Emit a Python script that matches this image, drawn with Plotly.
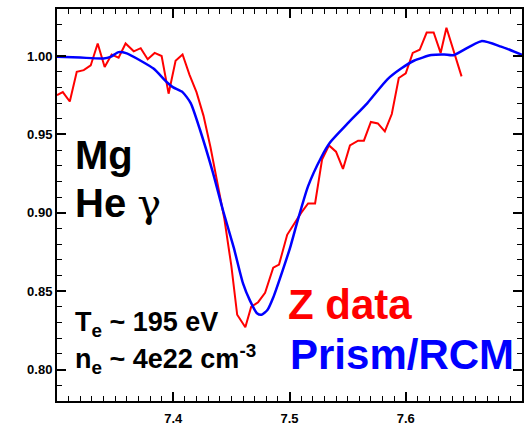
import plotly.graph_objects as go

# Measured Z-machine transmission around the Mg He-gamma line
z_wavelength = [
    7.300, 7.305, 7.311, 7.317, 7.323, 7.329, 7.335, 7.341, 7.347, 7.353,
    7.359, 7.366, 7.372, 7.378, 7.384, 7.390, 7.396, 7.402, 7.408, 7.414,
    7.420, 7.426, 7.432, 7.438, 7.444, 7.450, 7.455, 7.462, 7.467, 7.473,
    7.479, 7.486, 7.491, 7.498, 7.504, 7.510, 7.516, 7.522, 7.528, 7.534,
    7.540, 7.546, 7.552, 7.559, 7.564, 7.570, 7.576, 7.582, 7.588, 7.594,
    7.600, 7.606, 7.612, 7.618, 7.624, 7.630, 7.635, 7.642, 7.648,
]
z_transmission = [
    0.975, 0.977, 0.971, 0.990, 0.991, 0.994, 1.008, 0.993, 1.001, 0.999,
    1.008, 1.003, 1.005, 0.998, 1.002, 1.000, 0.976, 0.997, 1.001, 0.988,
    0.977, 0.962, 0.942, 0.919, 0.896, 0.866, 0.835, 0.827, 0.840, 0.843,
    0.849, 0.865, 0.867, 0.886, 0.893, 0.900, 0.906, 0.906, 0.934, 0.943,
    0.939, 0.928, 0.943, 0.946, 0.946, 0.958, 0.957, 0.952, 0.963, 0.986,
    0.989, 1.002, 1.004, 1.015, 1.015, 1.002, 1.018, 1.001, 0.987,
]

# Prism/RCM model spectrum
model_wavelength = [
    7.300, 7.320, 7.340, 7.346, 7.353, 7.360, 7.372, 7.383, 7.395, 7.400,
    7.408, 7.415, 7.423, 7.434, 7.443, 7.452, 7.460, 7.466, 7.472, 7.476,
    7.481, 7.486, 7.494, 7.501, 7.507, 7.516, 7.527, 7.535, 7.550, 7.567,
    7.584, 7.596, 7.607, 7.622, 7.633, 7.641, 7.665, 7.682, 7.701,
]
model_transmission = [
    0.9995, 0.9990, 0.9985, 0.9995, 1.0025, 1.0017, 0.997, 0.992, 0.983, 0.980,
    0.977, 0.970, 0.953, 0.926, 0.901, 0.878, 0.855, 0.844, 0.836, 0.835,
    0.838, 0.846, 0.863, 0.879, 0.895, 0.917, 0.935, 0.945, 0.957, 0.970,
    0.985, 0.992, 0.997, 1.0006, 1.001, 1.0005, 1.0095, 1.006, 1.0005,
]

x_ticks = [7.4, 7.5, 7.6]
x_tick_labels = ["7.4", "7.5", "7.6"]
y_ticks = [0.80, 0.85, 0.90, 0.95, 1.00]
y_tick_labels = ["0.80", "0.85", "0.90", "0.95", "1.00"]

FONT = "Liberation Sans, Arial, sans-serif"

fig = go.Figure()
fig.add_trace(go.Scatter(
    x=z_wavelength, y=z_transmission, mode="lines",
    line=dict(color="#ff0000", width=2), name="Z data",
))
fig.add_trace(go.Scatter(
    x=model_wavelength, y=model_transmission, mode="lines",
    line=dict(color="#0000ff", width=2.5, shape="spline", smoothing=0.6),
    name="Prism/RCM",
))

axis_common = dict(
    showgrid=False, zeroline=False, automargin=False,
    showline=True, linecolor="black", linewidth=2, mirror="allticks",
    ticks="inside", ticklen=9, tickwidth=1.5, tickcolor="black",
    tickfont=dict(family=FONT, size=13, color="black", weight="bold"),
)

fig.update_xaxes(
    range=[7.30, 7.70], tickvals=x_ticks, ticktext=x_tick_labels,
    ticklabelstandoff=4,
    minor=dict(dtick=0.01, tick0=7.3, ticks="inside", ticklen=5,
               tickwidth=1.2, tickcolor="black"),
    **axis_common,
)
fig.update_yaxes(
    range=[0.78, 1.03], tickvals=y_ticks, ticktext=y_tick_labels,
    minor=dict(dtick=0.01, tick0=0.78, ticks="inside", ticklen=5,
               tickwidth=1.2, tickcolor="black"),
    **axis_common,
)

labels = [
    dict(x=7.3140, y=0.9371, text="<b>Mg</b>", size=40, color="black"),
    dict(x=7.3140, y=0.9065,
         text="<b>He </b><span style=\"font-family:'DejaVu Serif';font-weight:normal\">γ</span>",
         size=40, color="black"),
    dict(x=7.3140, y=0.8290, text="<b>T<sub>e</sub> ~ 195 eV</b>", size=27, color="black"),
    dict(x=7.3140, y=0.8065, text="<b>n<sub>e</sub> ~ 4e22 cm<sup>-3</sup></b>", size=27, color="black"),
    dict(x=7.4966, y=0.8416, text="<b>Z data</b>", size=42, color="#ff0000"),
    dict(x=7.4983, y=0.8094, text="<b>Prism/RCM</b>", size=42, color="#0000ff"),
]
for lab in labels:
    fig.add_annotation(
        x=lab["x"], y=lab["y"], xref="x", yref="y", text=lab["text"],
        showarrow=False, xanchor="left", yanchor="middle",
        font=dict(family=FONT, size=lab["size"], color=lab["color"]),
    )

fig.update_layout(
    width=526, height=425,
    margin=dict(l=57, r=4, t=9, b=24),
    plot_bgcolor="white", paper_bgcolor="white",
    showlegend=False,
)

fig.write_html("out.html")
